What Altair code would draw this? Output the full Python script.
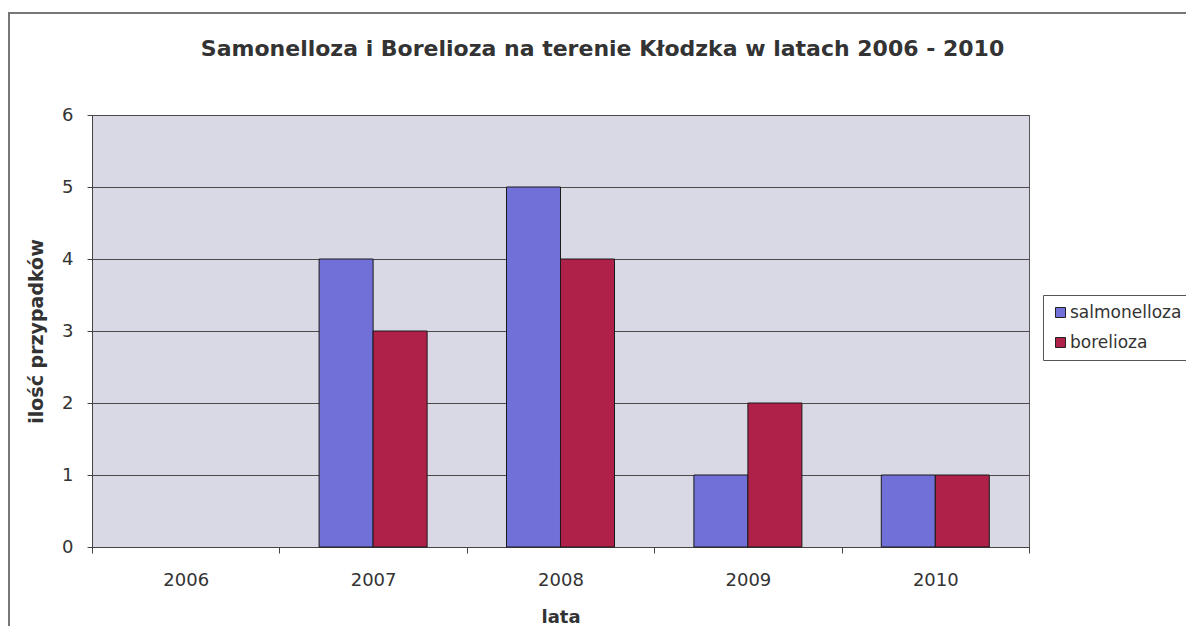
import altair as alt
import pandas as pd

# ---- data ----
years = ["2006", "2007", "2008", "2009", "2010"]
series_names = ["salmonelloza", "borelioza"]
salmonelloza = [0, 4, 5, 1, 1]
borelioza = [0, 3, 4, 2, 1]
y_ticks = [0, 1, 2, 3, 4, 5, 6]

title_text = "Samonelloza i Borelioza  na terenie Kłodzka w latach 2006 - 2010"

rows = []
for i, yr in enumerate(years):
    rows.append({"rok": yr, "choroba": "salmonelloza", "ilosc": salmonelloza[i]})
    rows.append({"rok": yr, "choroba": "borelioza", "ilosc": borelioza[i]})
df = pd.DataFrame(rows)

W, H = 937, 432
FONT = "DejaVu Sans"
TXT = "#333333"
BLUE = "#7070d8"
RED = "#b0214a"

bars = alt.Chart(df).mark_bar(stroke="#1a1a1a", strokeWidth=1).encode(
    x=alt.X(
        "rok:N",
        sort=years,
        scale=alt.Scale(paddingInner=0, paddingOuter=0),
        axis=alt.Axis(
            title="lata",
            labelAngle=0,
            tickBand="extent",
            tickSize=6,
            tickColor="#444444",
            domainColor="#444444",
            labelFont=FONT,
            labelFontSize=18,
            labelColor=TXT,
            labelPadding=18,
            titleFont=FONT,
            titleFontSize=18,
            titleFontWeight="bold",
            titleColor=TXT,
            titleY=70,
            titleBaseline="middle",
        ),
    ),
    xOffset=alt.XOffset(
        "choroba:N",
        sort=series_names,
        scale=alt.Scale(paddingInner=0, paddingOuter=0.735),
    ),
    y=alt.Y(
        "ilosc:Q",
        scale=alt.Scale(domain=[0, 6], nice=False),
        axis=alt.Axis(
            values=y_ticks,
            title="ilość przypadków",
            grid=True,
            gridColor="#4a4a4a",
            gridOpacity=1,
            gridWidth=1,
            tickSize=5,
            tickColor="#444444",
            domainColor="#444444",
            labelFont=FONT,
            labelFontSize=18,
            labelColor=TXT,
            labelPadding=14,
            titleFont=FONT,
            titleFontSize=19,
            titleFontWeight="bold",
            titleColor=TXT,
            titleX=-56,
            titleY=H / 2,
            titleBaseline="middle",
            titleAlign="center",
        ),
    ),
    color=alt.Color(
        "choroba:N",
        sort=series_names,
        scale=alt.Scale(domain=series_names, range=[BLUE, RED]),
        legend=alt.Legend(
            title=None,
            orient="none",
            legendX=951,
            legendY=180,
            symbolType="square",
            symbolSize=100,
            symbolStrokeColor="#222222",
            symbolStrokeWidth=1,
            labelFont=FONT,
            labelFontSize=17,
            labelColor=TXT,
            labelOffset=1,
            rowPadding=12,
            padding=9,
            strokeColor="#555555",
            fillColor="white",
        ),
    ),
    strokeOpacity=alt.condition(alt.datum.ilosc > 0, alt.value(1), alt.value(0)),
)

frame = alt.Chart(pd.DataFrame({"f": [0]})).mark_rect(
    fill="transparent", stroke="#777777", strokeWidth=2
).encode(
    x=alt.value(-83),
    x2=alt.value(3000),
    y=alt.value(-102),
    y2=alt.value(3000),
)

title = alt.Chart(pd.DataFrame({"t": [title_text]})).mark_text(
    font=FONT,
    fontSize=22,
    fontWeight="bold",
    color=TXT,
    align="center",
    baseline="alphabetic",
).encode(
    text="t:N",
    x=alt.value(W / 2 + 42),
    y=alt.value(-59),
)

chart = alt.layer(bars, frame, title).properties(
    width=W,
    height=H,
    padding={"left": 84, "top": 107, "right": 157, "bottom": 79},
    autosize=alt.AutoSizeParams(type="none"),
).configure_view(
    fill="#d8d9e4",
    stroke="#555555",
    strokeWidth=1,
)

chart.save("out.html", embed_options={"renderer": "svg", "actions": False})
